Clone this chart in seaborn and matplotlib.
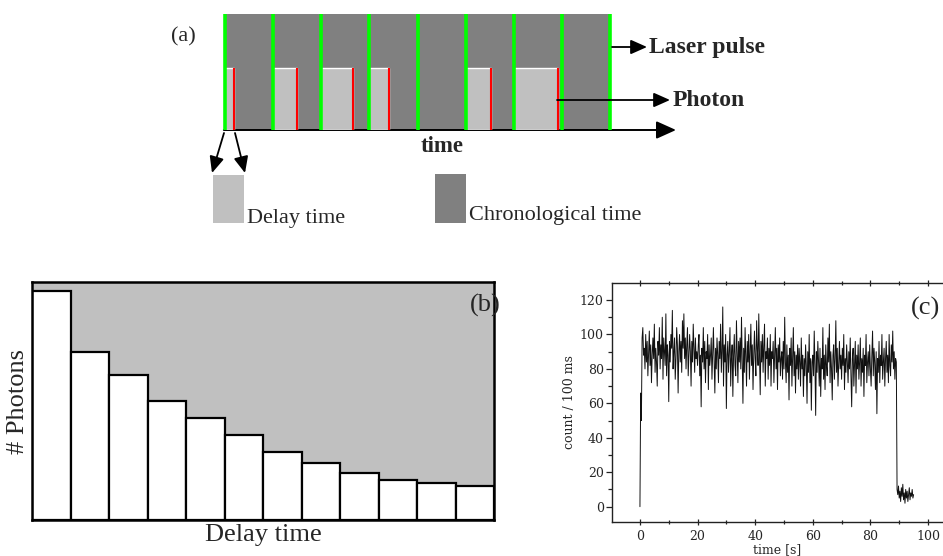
import numpy as np
import pandas as pd
import matplotlib
matplotlib.use("Agg")
import matplotlib.pyplot as plt
from matplotlib.patches import Rectangle
from matplotlib.ticker import MultipleLocator
import seaborn as sns

# ---------------- data ----------------
# (a) schematic: 8 laser periods, photon delay (fraction of a period) or None
pulse_index = [0, 1, 2, 3, 4, 5, 6, 7]
photon_delay = [0.19, 0.50, 0.67, 0.40, None, 0.52, 0.91, None]
n_periods = 8

# (b) delay-time histogram
delay_bins = list(range(1, 13))
photon_counts = [685, 504, 435, 355, 306, 254, 202, 171, 142, 120, 112, 102]

# (c) intensity trace, one value every 0.25 s
sample_step = 0.25
count_rate = [
    0, 66, 50, 98, 104, 88, 92, 80, 100, 84, 96, 76, 90, 102, 82, 94, 72, 88, 98, 86,
    106, 78, 92, 84, 70, 96, 88, 104, 80, 94, 86, 110, 74, 98, 90, 82, 112, 76, 94, 88,
    61, 96, 84, 100, 92, 114, 80, 90, 98, 74, 86, 104, 94, 66, 90, 100, 84, 96, 78, 108,
    92, 112, 86, 98, 80, 94, 104, 76, 88, 100, 90, 70, 96, 84, 106, 92, 78, 98, 86, 90,
    82, 94, 100, 76, 88, 58, 92, 84, 104, 80, 96, 72, 90, 86, 100, 68, 94, 82, 88, 98,
    74, 90, 104, 84, 66, 92, 80, 98, 88, 72, 96, 86, 106, 78, 90, 116, 70, 94, 84, 100,
    57, 88, 96, 78, 90, 104, 70, 86, 94, 64, 88, 100, 82, 76, 108, 90, 72, 96, 84, 98,
    80, 110, 86, 60, 92, 78, 104, 88, 70, 96, 84, 100, 74, 90, 106, 82, 94, 68, 88, 102,
    86, 76, 108, 92, 82, 112, 88, 65, 96, 84, 100, 78, 94, 106, 70, 90, 86, 98, 74, 92,
    82, 100, 70, 90, 86, 96, 72, 88, 104, 80, 92, 68, 94, 84, 98, 76, 86, 90, 74, 96,
    80, 110, 84, 72, 94, 78, 88, 62, 92, 82, 98, 70, 86, 104, 76, 90, 66, 88, 80, 94,
    74, 92, 84, 70, 98, 80, 88, 64, 86, 76, 94, 82, 60, 90, 78, 100, 72, 86, 56, 84,
    88, 76, 102, 82, 53, 90, 78, 96, 84, 70, 92, 64, 86, 80, 104, 74, 88, 68, 94, 82,
    76, 98, 84, 106, 72, 90, 80, 62, 88, 94, 74, 86, 108, 78, 92, 70, 84, 96, 80, 88,
    74, 92, 82, 100, 68, 86, 78, 94, 84, 72, 90, 80, 98, 76, 58, 86, 92, 70, 84, 96,
    66, 88, 80, 94, 74, 84, 98, 70, 86, 78, 92, 64, 88, 82, 100, 72, 84, 90, 76, 94,
    80, 70, 88, 102, 76, 92, 84, 68, 90, 54, 86, 78, 96, 72, 88, 82, 100, 74, 84, 92,
    70, 86, 96, 78, 88, 72, 100, 82, 76, 94, 84, 102, 80, 90, 74, 86,
    84, 10,
    7, 12, 5, 9, 3, 11, 6, 13, 4, 8, 2, 10, 5, 9, 3, 7, 11, 4, 8, 6, 10, 5, 7,
]
time_s = [i * sample_step for i in range(len(count_rate))]

# ---------------- style ----------------
sns.set_theme(style="white")
plt.rcParams["font.family"] = ["Liberation Serif", "DejaVu Serif"]

W, H = 943, 556
fig = plt.figure(figsize=(W / 100, H / 100), dpi=100)


def px_rect(x0, y0, x1, y1):
    return [x0 / W, 1 - y1 / H, (x1 - x0) / W, (y1 - y0) / H]


DARK = "#808080"
LIGHT = "#c0c0c0"

# ---------------- (a) ----------------
ax_a = fig.add_axes(px_rect(225, 14, 610, 130))
ax_a.set_facecolor(DARK)
ax_a.set_xlim(0, n_periods)
ax_a.set_ylim(0, 1)
for s in ax_a.spines.values():
    s.set_visible(False)
ax_a.set_xticks([])
ax_a.set_yticks([])
box_h = 0.534
ax_a.annotate("", xy=((676 - 225) / 385, 0.0), xytext=(-0.003, 0.0),
              xycoords="axes fraction", annotation_clip=False,
              arrowprops=dict(arrowstyle="-|>,head_length=1.0,head_width=0.45",
                              color="black", lw=1.4, mutation_scale=12,
                              shrinkA=0, shrinkB=0), zorder=1)
for i, d in zip(pulse_index, photon_delay):
    if d is None:
        continue
    ax_a.bar(i, box_h, width=d, align="edge", color=LIGHT, zorder=2)
    ax_a.plot([i + d, i + d], [0, box_h], color="#ff0000", lw=1.5, zorder=3,
              solid_capstyle="butt")
for i in range(n_periods + 1):
    ax_a.plot([i, i], [0, 1], color="#00ff00", lw=2.6, zorder=4, clip_on=False,
              solid_capstyle="butt")

# overlay for annotation
ov = fig.add_axes([0, 0, 1, 1], zorder=10)
ov.set_xlim(0, W)
ov.set_ylim(H, 0)
ov.axis("off")
ov.patch.set_visible(False)

arrow_small = dict(arrowstyle="-|>,head_length=0.9,head_width=0.4", color="black",
                   lw=1.3, mutation_scale=11, shrinkA=0, shrinkB=0)
ov.annotate("", xy=(647, 47), xytext=(612, 47), arrowprops=arrow_small)
ov.annotate("", xy=(670, 100), xytext=(557, 100), arrowprops=arrow_small)
ov.annotate("", xy=(212, 173), xytext=(224, 133), arrowprops=arrow_small)
ov.annotate("", xy=(245, 173), xytext=(235, 133), arrowprops=arrow_small)

ov.text(183, 37, "(a)", fontsize=16, ha="center", va="center")
ov.text(649, 47, "Laser pulse", fontsize=17, fontweight="bold", ha="left", va="center")
ov.text(673, 100, "Photon", fontsize=17, fontweight="bold", ha="left", va="center")
ov.text(442, 146, "time", fontsize=16.5, fontweight="bold", ha="center", va="center")

ov.add_patch(Rectangle((213, 175), 31, 48, color=LIGHT, lw=0))
ov.add_patch(Rectangle((435, 174), 31, 49, color=DARK, lw=0))
ov.text(247, 223, "Delay time", fontsize=16, ha="left", va="baseline")
ov.text(469, 220, "Chronological time", fontsize=16, ha="left", va="baseline")

# ---------------- (b) ----------------
ax_b = fig.add_axes(px_rect(32, 282, 494, 520))
ax_b.set_facecolor(LIGHT)
df_b = pd.DataFrame({"bin": delay_bins, "photons": photon_counts})
sns.barplot(data=df_b, x="bin", y="photons", color="white", saturation=1,
            edgecolor="black", linewidth=1.6, width=1.0, ax=ax_b)
ax_b.set_xlim(-0.5, len(delay_bins) - 0.5)
ax_b.set_ylim(0, 712)
ax_b.set_xticks([])
ax_b.set_yticks([])
for s in ax_b.spines.values():
    s.set_visible(True)
    s.set_color("black")
    s.set_linewidth(1.8)
ax_b.set_xlabel("Delay time", fontsize=19, labelpad=3)
ax_b.set_ylabel("# Photons", fontsize=19, labelpad=2)
ov.text(485, 305, "(b)", fontsize=19, ha="center", va="center")

# ---------------- (c) ----------------
ax_c = fig.add_axes(px_rect(612, 283, 943, 522))
ax_c.set_facecolor("white")
df_c = pd.DataFrame({"t": time_s, "count": count_rate})
sns.lineplot(data=df_c, x="t", y="count", color="#111111", lw=0.7, ax=ax_c,
             sort=False, estimator=None)
ax_c.set_xlim(-9.7, 105.2)
ax_c.set_ylim(-8.9, 129.9)
ax_c.xaxis.set_major_locator(MultipleLocator(20))
ax_c.xaxis.set_minor_locator(MultipleLocator(10))
ax_c.yaxis.set_major_locator(MultipleLocator(20))
ax_c.yaxis.set_minor_locator(MultipleLocator(10))
ax_c.tick_params(axis="x", which="both", bottom=True, top=True, direction="inout",
                 color="#222222", width=0.9, labelsize=9, pad=3)
ax_c.tick_params(axis="x", which="major", length=5)
ax_c.tick_params(axis="x", which="minor", length=3)
ax_c.tick_params(axis="y", which="both", left=True, right=False, direction="out",
                 color="#222222", width=0.9, labelsize=9, pad=2)
ax_c.tick_params(axis="y", which="major", length=4)
ax_c.tick_params(axis="y", which="minor", length=3)
for lab in ax_c.get_xticklabels() + ax_c.get_yticklabels():
    lab.set_fontfamily("DejaVu Serif")
for name, s in ax_c.spines.items():
    s.set_color("#222222")
    s.set_linewidth(1.0)
ax_c.spines["right"].set_visible(False)
ax_c.set_xlabel("time [s]", fontsize=9, fontfamily="DejaVu Serif", labelpad=0)
ax_c.set_ylabel("count / 100 ms", fontsize=9, fontfamily="DejaVu Serif", labelpad=3)
ov.text(925, 308, "(c)", fontsize=19, ha="center", va="center")

fig.savefig("out.png", dpi=100)
